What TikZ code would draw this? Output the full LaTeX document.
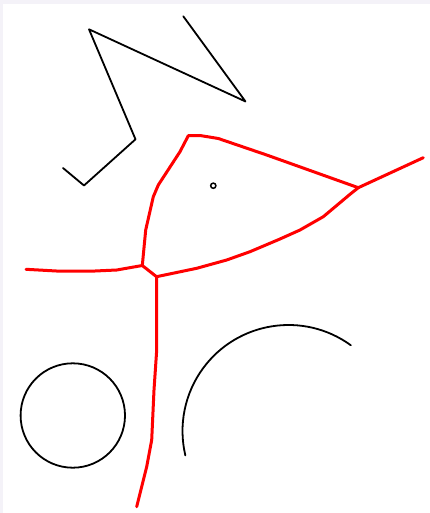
\documentclass[tikz,border=0pt]{standalone}
\begin{document}
\begin{tikzpicture}[x=1pt,y=-1pt,
  blk/.style={draw=black,line width=1.8pt,line join=round,line cap=round},
  edge/.style={draw=red,line width=3pt,line join=round,line cap=round}]
\useasboundingbox (0,0) rectangle (430,513);
\fill[fill={rgb,255:red,244;green,242;blue,248}] (0,0) rectangle (430,513);
\fill[white] (3,4) rectangle (430,513);
% junction coordinates
\coordinate (jl) at (142.3,265.5);
\coordinate (jb) at (156.5,276.7);
\coordinate (jr) at (358.3,187.7);
% black polyline
\draw[blk] (63,168) -- (84,185.5) -- (135.5,139.3) -- (89,29.3) -- (245.5,101.5) -- (183.3,16.3);
% small circle
\draw[black,line width=1.5pt] (213.3,185.7) circle (2.6);
% red edges
\draw[edge] (26,269.3) -- (60,271.2) -- (95,271) -- (116.7,270) -- (jl);
\draw[edge] (jl) -- (145.7,230) -- (153.3,196.7) -- (158.3,185) -- (180,151.7) -- (188.3,135.7) -- (200,135.5) -- (218.3,138.5) -- (266.7,155) -- (jr);
\draw[edge] (jr) -- (423.3,157.7);
\draw[edge] (jr) -- (350,194.3) -- (323.3,216.7) -- (300,230) -- (280,239) -- (250,251.7) -- (226.7,260) -- (196.7,268.3) -- (jb);
\draw[edge] (jl) -- (jb);
\draw[edge] (jb) -- (156.7,350) -- (154,390) -- (151.7,440) -- (146.7,466.7) -- (136.7,506.7);
% circle
\draw[blk] (72.8,415.5) circle (52.2);
% arc
\draw[blk] (288.5,431) ++(-54:106) arc[start angle=-54,end angle=-193.3,radius=106];
\end{tikzpicture}
\end{document}
